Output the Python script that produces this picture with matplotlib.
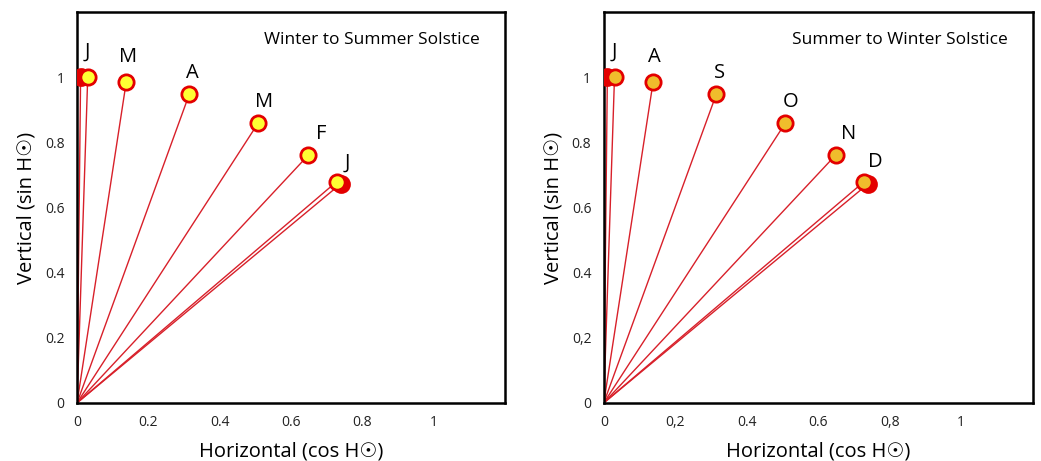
import matplotlib
matplotlib.use("Agg")
import matplotlib.pyplot as plt

plt.rcParams['font.family'] = ['Open Sans', 'DejaVu Sans']

# noon sun position, cos / sin of altitude
months_ws = ['J', 'M', 'A', 'M', 'F', 'J']
months_sw = ['J', 'A', 'S', 'O', 'N', 'D']
x_pts = [0.03, 0.138, 0.315, 0.508, 0.649, 0.728]
y_pts = [1.0, 0.985, 0.948, 0.859, 0.761, 0.679]

# solstice points drawn as plain red dots
x_sol = [0.01, 0.739]
y_sol = [1.0, 0.672]

xticks = [0, 0.2, 0.4, 0.6, 0.8, 1]
yticks = [0, 0.2, 0.4, 0.6, 0.8, 1]
xlab_left = ['0', '0.2', '0.4', '0.6', '0.8', '1']
xlab_right = ['0', '0,2', '0.4', '0.6', '0,8', '1']
ylab_left = ['0', '0.2', '0.4', '0.6', '0.8', '1']
ylab_right = ['0', '0,2', '0.4', '0.6', '0.8', '1']

# label offsets (points) from the markers
offs = [(0, 18), (1, 18), (2, 15), (4, 15), (9, 15), (8, 14)]

fig = plt.figure(figsize=(10.41, 4.61), dpi=100)
ax1 = fig.add_axes([0.074, 0.126, 0.411, 0.848])
ax2 = fig.add_axes([0.580, 0.126, 0.412, 0.848])

line_c = '#d8202a'
red = '#e30000'

panels = [
    (ax1, months_ws, '#ffff33', 'Winter to Summer Solstice', xlab_left, ylab_left),
    (ax2, months_sw, '#f0bd2c', 'Summer to Winter Solstice', xlab_right, ylab_right),
]

for ax, labels, face, title, xl, yl in panels:
    for x, y in zip(x_sol + x_pts, y_sol + y_pts):
        ax.plot([0, x], [0, y], color=line_c, lw=1.0, zorder=2)
    ax.plot(x_sol, y_sol, 'o', ms=12, mfc=red, mec=red, mew=1.5, zorder=3)
    ax.plot(x_pts, y_pts, 'o', ms=11, mfc=face, mec=red, mew=2, zorder=4)
    for lab, x, y, o in zip(labels, x_pts, y_pts, offs):
        ax.annotate(lab, (x, y), xytext=o, textcoords='offset points',
                    ha='center', va='center', fontsize=14.5)
    ax.text(0.69, 0.928, title, transform=ax.transAxes, ha='center', va='center',
            fontsize=12.5)
    ax.set_xlim(0, 1.2)
    ax.set_ylim(0, 1.2)
    ax.set_xticks(xticks)
    ax.set_xticklabels(xl)
    ax.set_yticks(yticks)
    ax.set_yticklabels(yl)
    ax.tick_params(length=0, labelsize=10, pad=9, colors='#222222')
    for s in ax.spines.values():
        s.set_linewidth(1.8)
        s.set_color('black')
    ax.set_xlabel('Horizontal (cos H\u2609)', fontsize=14.5, labelpad=8)
    ax.set_ylabel('Vertical (sin H\u2609)', fontsize=14.5, labelpad=6)

fig.savefig('out.png', dpi=100)
